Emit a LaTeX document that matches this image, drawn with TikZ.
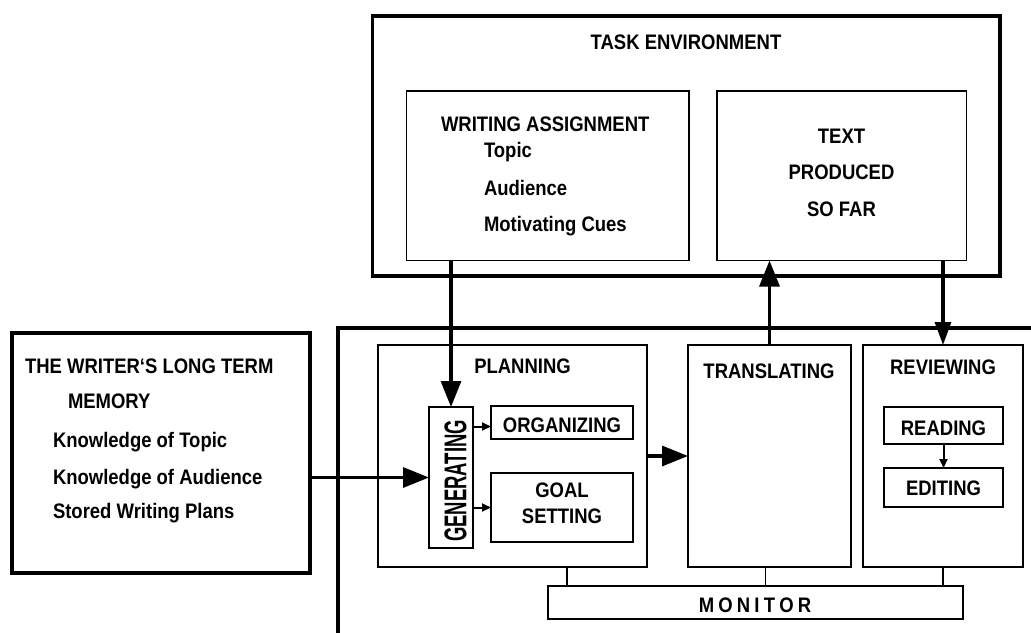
\documentclass[tikz,border=0pt]{standalone}
\usepackage{fontspec}
\setmainfont[FakeStretch=0.88]{Liberation Sans}
\usetikzlibrary{arrows.meta}
\begin{document}
\begin{tikzpicture}[x=1pt,y=-1pt,
  thickbox/.style={draw, line width=3.2pt, inner sep=0pt, outer sep=0pt, anchor=north west},
  box/.style={draw, line width=1.6pt, inner sep=0pt, outer sep=0pt, anchor=north west},
  lbl/.style={font=\fontsize{21}{25}\selectfont\bfseries, inner sep=0pt, outer sep=0pt},
  big/.style={line width=3.2pt, -{Triangle[width=20pt,length=26pt]}},
  bigb/.style={line width=3.2pt, -{Triangle[width=16pt,length=23pt]}},
  small/.style={line width=2pt, -{Triangle[width=8pt,length=9pt]}},
  link/.style={line width=1.6pt}]
\useasboundingbox (0,0) rectangle (1031,632);

% task environment
\node[thickbox, minimum width=627.5pt, minimum height=260pt] (task) at (372.5,16) {};
\node[box, minimum width=282.5pt, minimum height=169.5pt] (wa) at (406.5,91) {};
\node[box, minimum width=249.5pt, minimum height=169.5pt] (tp) at (717,91) {};
\node[lbl, anchor=base] (taskt) at (686,49) {TASK ENVIRONMENT};
\node[lbl, anchor=base west] (wat) at (441,131) {WRITING ASSIGNMENT};
\node[lbl, anchor=base west] (wa1) at (484,157) {Topic};
\node[lbl, anchor=base west] (wa2) at (484,195) {Audience};
\node[lbl, anchor=base west] (wa3) at (484,231.5) {Motivating Cues};
\node[lbl, anchor=base] (tp1) at (841.5,143.3) {TEXT};
\node[lbl, anchor=base] (tp2) at (841.5,179.3) {PRODUCED};
\node[lbl, anchor=base] (tp3) at (841.5,216) {SO FAR};

% long term memory
\node[thickbox, minimum width=298pt, minimum height=240pt] (ltm) at (12,333) {};
\node[lbl, anchor=base west] (ltm1) at (25,373) {THE WRITER‘S LONG TERM};
\node[lbl, anchor=base west] (ltm2) at (68,408.5) {MEMORY};
\node[lbl, anchor=base west] (ltm3) at (53,447) {Knowledge of Topic};
\node[lbl, anchor=base west] (ltm4) at (53,484) {Knowledge of Audience};
\node[lbl, anchor=base west] (ltm5) at (53,518.5) {Stored Writing Plans};

% writer frame
\draw[line width=3.2pt] (338,650) -- (338,328) -- (1050,328);

% processes
\node[box, minimum width=269pt, minimum height=222pt] (plan) at (378,345) {};
\node[box, minimum width=44pt, minimum height=141pt] (gen) at (429,407) {};
\node[box, minimum width=142pt, minimum height=33pt] (org) at (491,406) {};
\node[box, minimum width=142pt, minimum height=69pt] (goal) at (491,473) {};
\node[box, minimum width=163pt, minimum height=222pt] (trans) at (688,345) {};
\node[box, minimum width=160pt, minimum height=222pt] (rev) at (863,345) {};
\node[box, minimum width=119pt, minimum height=37pt] (read) at (884,407) {};
\node[box, minimum width=119pt, minimum height=39pt] (edit) at (884,468) {};
\node[box, minimum width=415pt, minimum height=33pt] (mon) at (548,586) {};

\node[lbl, anchor=base] (plant) at (522.5,373) {PLANNING};
\node[lbl, rotate=90] (gent) at (455.5,481) {\scalebox{1}[1.5]{GENERATING}};
\node[lbl, anchor=base] (orgt) at (562,432) {ORGANIZING};
\node[lbl, anchor=base] (goalt1) at (562,497) {GOAL};
\node[lbl, anchor=base] (goalt2) at (562,523) {SETTING};
\node[lbl, anchor=base] (transt) at (769,378.5) {TRANSLATING};
\node[lbl, anchor=base] (revt) at (943,374) {REVIEWING};
\node[lbl, anchor=base] (readt) at (943.5,435) {READING};
\node[lbl, anchor=base] (editt) at (943.5,495) {EDITING};
\node[lbl, anchor=base] (mont) at (755,612) {M\hspace{4.2pt}O\hspace{4.2pt}N\hspace{4.2pt}I\hspace{4.2pt}T\hspace{4.2pt}O\hspace{4.2pt}R};

% connectors
\coordinate (orgin) at ([yshift=-4pt]org.west);
\draw[big] (wa.south -| gen.north) -- (gen.north);
\draw[big] (trans.north) -- (trans.north |- tp.south);
\draw[bigb] (tp.south -| rev.north) -- (rev.north);
\draw[big] (ltm.east |- gen.west) -- (gen.west);
\draw[big] (plan.east) -- (trans.west);
\draw[small] (gen.east |- orgin) -- (orgin);
\draw[small] (gen.east |- goal.west) -- (goal.west);
\draw[small] (read.south) -- (edit.north);

\coordinate (m1) at ([xshift=19pt]mon.north west);
\coordinate (m2) at ([xshift=-4pt]trans.south);
\draw[link] (plan.south -| m1) -- (m1);
\draw[link] (m2) -- (m2 |- mon.north);
\draw[link] (rev.south) -- (rev.south |- mon.north);
\end{tikzpicture}
\end{document}
